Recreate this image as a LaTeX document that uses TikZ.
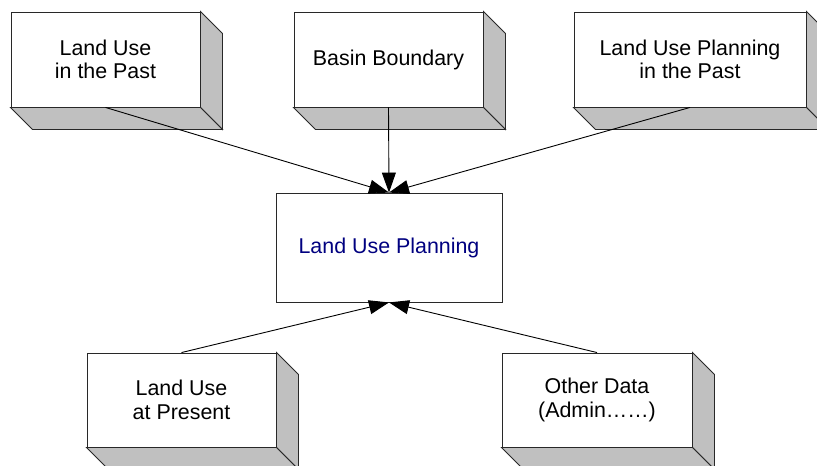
\documentclass[tikz,border=0pt]{standalone}
\usepackage{fontspec}
\setmainfont{Liberation Sans}
\usetikzlibrary{arrows.meta}
\definecolor{sidegray}{RGB}{192,192,192}
\definecolor{edgegray}{RGB}{40,40,40}
\definecolor{navytext}{RGB}{0,0,128}
\tikzset{
  frontbox/.style={draw=edgegray, fill=white, line width=0.9pt,
    minimum width=189pt, minimum height=95pt, align=center, inner sep=0pt,
    font=\fontsize{21.4}{23.5}\selectfont},
  sideface/.style={fill=sidegray, draw=edgegray, line width=0.9pt, line join=miter},
  link/.style={draw=black, line width=0.9pt, -{Triangle[length=20pt,width=14pt]}},
}
% side and bottom faces of an extruded box behind a named node
\newcommand\extrude[2]{%
  \filldraw[sideface] (#1.north east) -- ++(#2pt,-#2pt)
    -- ([shift={(#2pt,-#2pt)}]#1.south east) -- (#1.south east) -- cycle;
  \filldraw[sideface] (#1.south west) -- ++(#2pt,-#2pt)
    -- ([shift={(#2pt,-#2pt)}]#1.south east) -- (#1.south east) -- cycle;
}
\begin{document}
\begin{tikzpicture}[x=1pt,y=-1pt]
  \clip (0,0) rectangle (817,466);
  \fill[white] (0,0) rectangle (817,466);

  % source boxes
  \node[frontbox] (past) at (105.5,59.5) {Land Use\\in the Past};
  \extrude{past}{22}
  \node[frontbox] (basin) at (388.5,59.5) {Basin Boundary};
  \extrude{basin}{22}
  \node[frontbox, minimum width=232pt] (plan) at (690,59.5) {Land Use Planning\\in the Past};
  \extrude{plan}{22}
  \node[frontbox, minimum height=94pt] (present) at (181.5,400) {Land Use\\at Present};
  \extrude{present}{22}
  \node[frontbox, minimum width=190pt, minimum height=94pt] (other) at (597,400) {Other Data\\(Admin……)};
  \extrude{other}{22}

  % central box
  \node[frontbox, minimum width=226pt, minimum height=109pt, text=navytext] (lup) at (389,247.5) {Land Use Planning};

  % connectors
  \draw[link] (past.south) -- (lup.north);
  \draw[link] (basin.south) -- (lup.north);
  \draw[link] (plan.south) -- (lup.north);
  \draw[link] (present.north) -- (lup.south);
  \draw[link] (other.north) -- (lup.south);
\end{tikzpicture}
\end{document}
